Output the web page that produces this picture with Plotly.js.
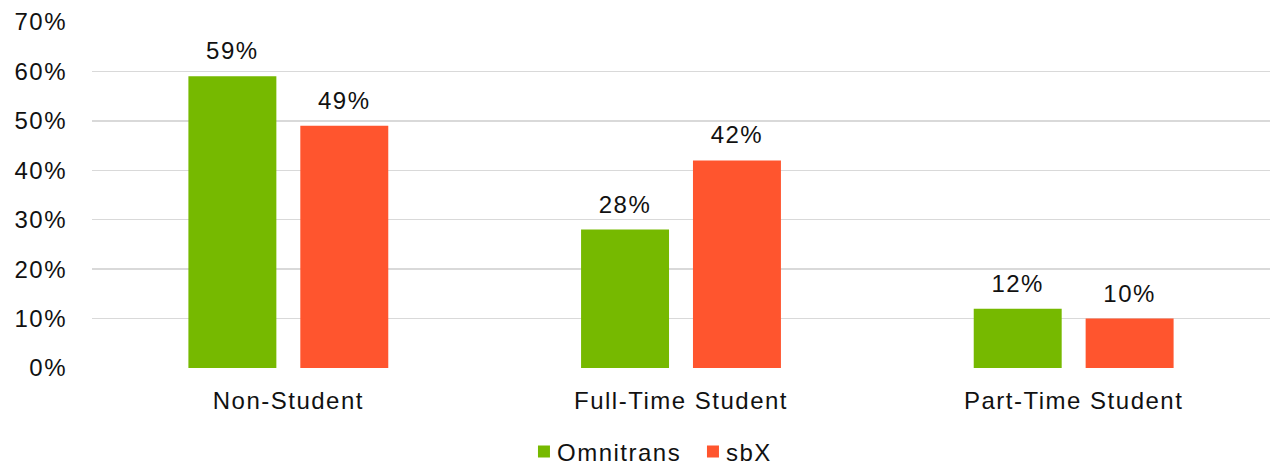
<!DOCTYPE html>
<html>
<head>
<meta charset="utf-8">
<script src="https://cdn.plot.ly/plotly-3.0.1.min.js"></script>
<style>
  html, body { margin: 0; padding: 0; background: #fff; }
  #chart { width: 1270px; height: 465px; }
  svg text { letter-spacing: 1.5px; }
  .legend .legendtext { transform: translateX(-7px); }
</style>
</head>
<body>
<div id="chart"></div>
<script>
// Student status of riders, share of each system's riders
const categories = ['Non-Student', 'Full-Time Student', 'Part-Time Student'];
const omnitrans = [0.59, 0.28, 0.12];
const sbx = [0.49, 0.42, 0.10];
const seriesNames = ['Omnitrans', 'sbX'];
const seriesColors = ['#76b900', '#ff552e'];
const yTicks = [0, 0.1, 0.2, 0.3, 0.4, 0.5, 0.6, 0.7];

const FONT = 'Liberation Sans, Arial, sans-serif';
const INK = '#111111';
const SIZE = 24;
const GAP = 0.43;

const pct = v => Math.round(v * 100) + '%';

function barTrace(i, values) {
  return {
    type: 'bar',
    name: seriesNames[i],
    x: categories,
    y: values,
    marker: { color: seriesColors[i] },
    hoverinfo: 'x+y'
  };
}

// value labels sit a little above each bar; an invisible marker sets the offset
function labelTrace(i, values) {
  return {
    type: 'scatter',
    mode: 'markers+text',
    name: seriesNames[i] + ' labels',
    showlegend: false,
    x: categories,
    y: values,
    text: values.map(pct),
    textposition: 'top center',
    textfont: { family: FONT, size: SIZE, color: INK },
    marker: { size: 16, opacity: 0, color: seriesColors[i] },
    cliponaxis: false,
    hoverinfo: 'skip'
  };
}

const data = [
  barTrace(0, omnitrans),
  barTrace(1, sbx),
  labelTrace(0, omnitrans),
  labelTrace(1, sbx)
];

const layout = {
  width: 1270,
  height: 465,
  margin: { l: 92, r: 0, t: 22, b: 97, autoexpand: false },
  paper_bgcolor: '#ffffff',
  plot_bgcolor: '#ffffff',
  font: { family: FONT, size: SIZE, color: INK },
  barmode: 'group',
  bargap: GAP,
  bargroupgap: 0.214,
  scattermode: 'group',
  scattergap: GAP,
  showlegend: true,
  legend: {
    orientation: 'h',
    x: 0.3667,
    xanchor: 'left',
    y: -0.2428,
    yanchor: 'middle',
    font: { family: FONT, size: SIZE, color: INK },
    itemwidth: 30,
    entrywidth: 124,
    tracegroupgap: 0
  },
  xaxis: {
    type: 'category',
    showgrid: false,
    showline: false,
    zeroline: false,
    ticks: '',
    ticklabelstandoff: 16,
    tickfont: { family: FONT, size: SIZE, color: INK }
  },
  yaxis: {
    range: [0, 0.7],
    tickvals: yTicks,
    tickformat: '.0%',
    showgrid: true,
    gridcolor: '#d9d9d9',
    gridwidth: 1.3,
    zeroline: false,
    showline: false,
    ticks: '',
    ticklabelstandoff: 24,
    tickfont: { family: FONT, size: SIZE, color: INK }
  }
};

Plotly.newPlot('chart', data, layout, { displayModeBar: false, staticPlot: true });
</script>
</body>
</html>
